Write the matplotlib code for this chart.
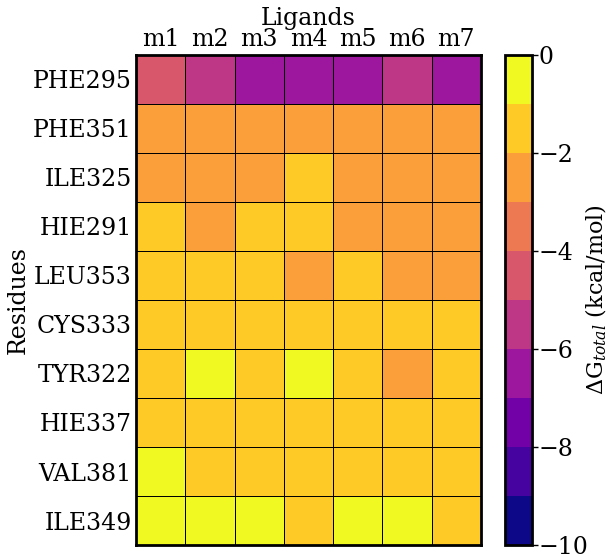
import numpy as np
import matplotlib
matplotlib.use("Agg")
import matplotlib.pyplot as plt
from matplotlib.colors import BoundaryNorm

plt.rcParams['font.family'] = ['DejaVu Serif']
plt.rcParams['mathtext.fontset'] = 'dejavuserif'

ligands = ["m1", "m2", "m3", "m4", "m5", "m6", "m7"]
residues = ["PHE295", "PHE351", "ILE325", "HIE291", "LEU353",
            "CYS333", "TYR322", "HIE337", "VAL381", "ILE349"]

PHE295 = [-4.5, -5.5, -6.5, -6.5, -6.5, -5.5, -6.5]
PHE351 = [-2.5, -2.5, -2.5, -2.5, -2.5, -2.5, -2.5]
ILE325 = [-2.5, -2.5, -2.5, -1.5, -2.5, -2.5, -2.5]
HIE291 = [-1.5, -2.5, -1.5, -1.5, -2.5, -2.5, -2.5]
LEU353 = [-1.5, -1.5, -1.5, -2.5, -1.5, -2.5, -2.5]
CYS333 = [-1.5, -1.5, -1.5, -1.5, -1.5, -1.5, -1.5]
TYR322 = [-1.5, -0.5, -1.5, -0.5, -1.5, -2.5, -1.5]
HIE337 = [-1.5, -1.5, -1.5, -1.5, -1.5, -1.5, -1.5]
VAL381 = [-0.5, -1.5, -1.5, -1.5, -1.5, -1.5, -1.5]
ILE349 = [-0.5, -0.5, -0.5, -1.5, -0.5, -0.5, -1.5]

data = np.array([PHE295, PHE351, ILE325, HIE291, LEU353,
                 CYS333, TYR322, HIE337, VAL381, ILE349])

cbar_ticks = [0, -2, -4, -6, -8, -10]

FS = 17

fig = plt.figure(figsize=(6.11, 5.55), dpi=100)
ax = fig.add_axes([0.2226, 0.018, 0.5646, 0.883])
cax = fig.add_axes([0.827, 0.018, 0.043, 0.883])

levels = np.linspace(-10, 0, 11)
cmap = plt.get_cmap('plasma', 10)
norm = BoundaryNorm(levels, cmap.N)

mesh = ax.pcolormesh(data, cmap=cmap, norm=norm, edgecolors='black', linewidth=0.6)
ax.set_xlim(0, len(ligands))
ax.set_ylim(len(residues), 0)
ax.set_xticks(np.arange(len(ligands)) + 0.5)
ax.set_xticklabels(ligands, fontsize=FS)
ax.set_yticks(np.arange(len(residues)) + 0.5)
ax.set_yticklabels(residues, fontsize=FS)
ax.xaxis.tick_top()
ax.xaxis.set_label_position('top')
ax.tick_params(length=0, pad=3)
ax.set_xlabel("Ligands", fontsize=FS, labelpad=2)
ax.set_ylabel("Residues", fontsize=FS, labelpad=2)
for s in ax.spines.values():
    s.set_linewidth(2)

cb = fig.colorbar(mesh, cax=cax, ticks=cbar_ticks)
cb.ax.minorticks_off()
cb.ax.tick_params(labelsize=FS, width=1, length=4, pad=1)
cb.outline.set_linewidth(2)
cb.set_label(r"$\Delta$G$_{total}$ (kcal/mol)", fontsize=16, labelpad=-3)

fig.savefig("out.png", dpi=100)
